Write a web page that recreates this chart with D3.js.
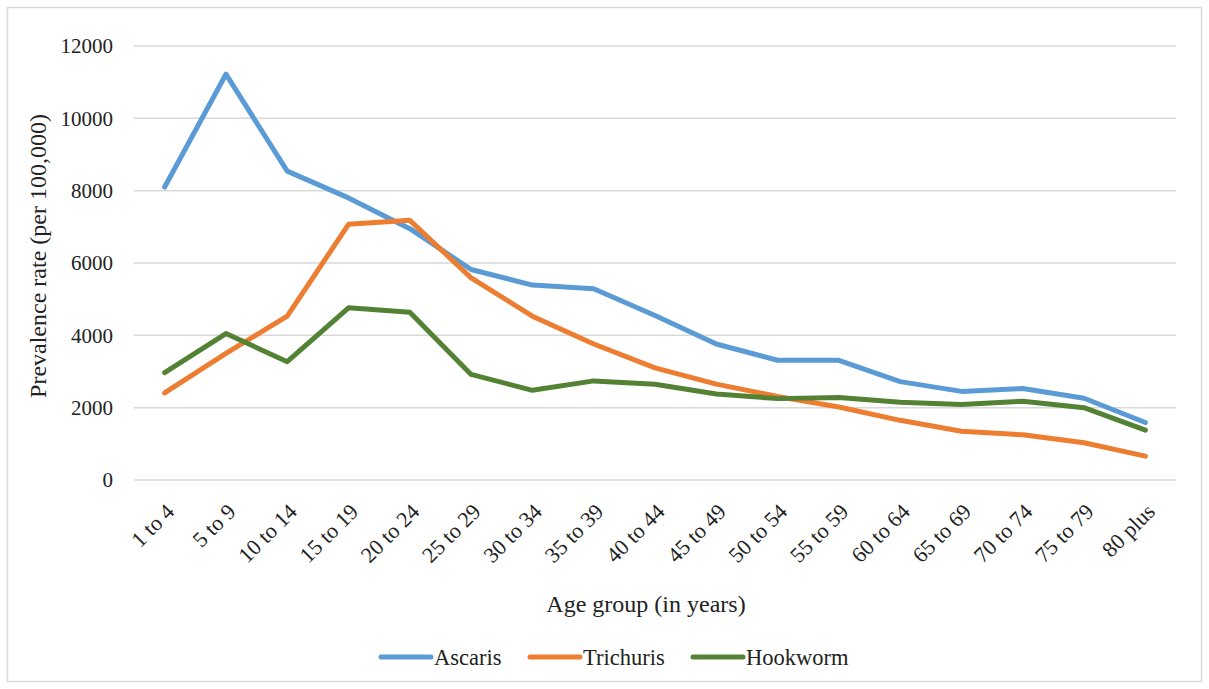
<!DOCTYPE html>
<html>
<head>
<meta charset="utf-8">
<script src="https://cdn.jsdelivr.net/npm/d3@7"></script>
<style>
  html, body { margin: 0; padding: 0; background: #fff; }
  svg { display: block; }
  svg text { font-family: "Liberation Serif", "Times New Roman", serif; }
</style>
</head>
<body>
<svg id="chart" width="1209" height="689"></svg>
<script>
// Age groups on the x axis
const ageGroups = ["1 to 4", "5 to 9", "10 to 14", "15 to 19", "20 to 24", "25 to 29", "30 to 34",
  "35 to 39", "40 to 44", "45 to 49", "50 to 54", "55 to 59", "60 to 64", "65 to 69",
  "70 to 74", "75 to 79", "80 plus"];

// Prevalence rate per 100,000 for each infection
const ascaris   = [8100, 11220, 8540, 7800, 6950, 5820, 5390, 5290, 4550, 3760, 3310, 3310, 2720, 2450, 2530, 2260, 1590];
const trichuris = [2410, 3500, 4530, 7070, 7180, 5590, 4530, 3760, 3100, 2650, 2310, 2020, 1650, 1350, 1250, 1030, 660];
const hookworm  = [2970, 4050, 3270, 4760, 4640, 2920, 2480, 2740, 2650, 2380, 2250, 2280, 2150, 2090, 2180, 2000, 1380];

const yTicks = [0, 2000, 4000, 6000, 8000, 10000, 12000];

const seriesNames = ["Ascaris", "Trichuris", "Hookworm"];
const seriesColors = ["#5B9BD5", "#ED7D31", "#548235"];
const seriesValues = [ascaris, trichuris, hookworm];

const FONT = "Liberation Serif, Times New Roman, serif";
const svg = d3.select("#chart");
const W = 1209, H = 689;

// outer frame
svg.append("rect")
  .attr("x", 7.5).attr("y", 7.5)
  .attr("width", W - 15).attr("height", H - 15)
  .attr("fill", "#fff").attr("stroke", "#d9d9d9").attr("stroke-width", 1.5);

const plot = { left: 134, right: 1176, top: 46, bottom: 480 };

const x = d3.scaleBand().domain(ageGroups).range([plot.left, plot.right]).padding(0);
const y = d3.scaleLinear().domain([0, 12000]).range([plot.bottom, plot.top]);
const cx = d => x(d) + x.bandwidth() / 2;

// horizontal gridlines
svg.append("g")
  .selectAll("line")
  .data(yTicks)
  .join("line")
  .attr("x1", plot.left).attr("x2", plot.right)
  .attr("y1", d => y(d)).attr("y2", d => y(d))
  .attr("stroke", "#d9d9d9").attr("stroke-width", 1.5);

// y axis labels
const yAxis = d3.axisLeft(y).tickValues(yTicks).tickSize(0).tickPadding(21).tickFormat(d3.format("d"));
const gy = svg.append("g").attr("transform", `translate(${plot.left},0)`).call(yAxis)
  .attr("font-family", FONT).attr("font-size", 21);
gy.select(".domain").remove();
gy.selectAll("text").attr("fill", "#222");

// x axis labels, rotated
const xAxis = d3.axisBottom(x).tickSize(0).tickPadding(0);
const gx = svg.append("g").attr("transform", `translate(0,${plot.bottom})`).call(xAxis)
  .attr("font-family", FONT).attr("font-size", 22);
gx.select(".domain").remove();
gx.selectAll("text")
  .attr("fill", "#222")
  .attr("text-anchor", "end")
  .attr("y", 0)
  .attr("dy", null)
  .attr("transform", "translate(11,33) rotate(-45)");

// axis titles
svg.append("text")
  .attr("x", 646).attr("y", 612)
  .attr("text-anchor", "middle")
  .attr("font-family", FONT)
  .attr("font-size", 24).attr("fill", "#222")
  .text("Age group (in years)");

svg.append("text")
  .attr("transform", `translate(46,256) rotate(-90)`)
  .attr("text-anchor", "middle")
  .attr("font-family", FONT)
  .attr("font-size", 24).attr("fill", "#222")
  .text("Prevalence rate (per 100,000)");

// series lines
const line = d3.line()
  .x((d, i) => cx(ageGroups[i]))
  .y(d => y(d));

svg.append("g")
  .selectAll("path")
  .data(seriesValues)
  .join("path")
  .attr("d", d => line(d))
  .attr("fill", "none")
  .attr("stroke", (d, i) => seriesColors[i])
  .attr("stroke-width", 5)
  .attr("stroke-linejoin", "round")
  .attr("stroke-linecap", "round");

// legend
const legendX = [381, 530, 693];
const lg = svg.append("g");
seriesNames.forEach((name, i) => {
  const g = lg.append("g").attr("transform", `translate(${legendX[i]},657)`);
  g.append("line")
    .attr("x1", 0).attr("x2", 50).attr("y1", 0).attr("y2", 0)
    .attr("stroke", seriesColors[i]).attr("stroke-width", 5).attr("stroke-linecap", "round");
  g.append("text")
    .attr("x", 53).attr("y", 0).attr("dy", "0.35em")
    .attr("font-family", FONT)
    .attr("font-size", 22.5).attr("fill", "#222")
    .text(name);
});
</script>
</body>
</html>
